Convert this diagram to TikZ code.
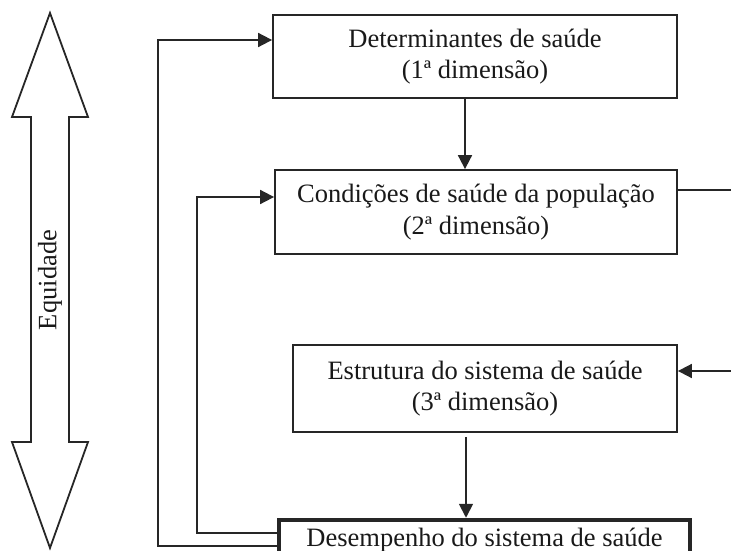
\documentclass[tikz,border=0pt]{standalone}
\usepackage{fontspec}
\setmainfont{Liberation Serif}
\usetikzlibrary{arrows.meta,calc,positioning}

\begin{document}
\begin{tikzpicture}[x=1pt,y=-1pt,
    dimbox/.style={draw=black!85,line width=1.8pt,align=center,inner sep=0pt,
      text=black!90,font=\fontsize{26.5}{31.5}\selectfont},
    flow/.style={draw=black!85,line width=1.8pt,-{Triangle[length=14pt,width=14pt]}}]
  \useasboundingbox (0,0) rectangle (731,551);

  % the four dimensions
  \node[dimbox,minimum width=404pt,minimum height=83pt] (det) at (475,56.5) {Determinantes de saúde\\(1ª dimensão)};
  \node[dimbox,minimum width=402pt,minimum height=84pt] (cond) at (476,212) {Condições de saúde da população\\(2ª dimensão)};
  \node[dimbox,minimum width=384pt,minimum height=87pt] (estr) at (485,388.5) {Estrutura do sistema de saúde\\(3ª dimensão)};
  \node[dimbox,line width=4.5pt,minimum width=411pt,minimum height=40pt] (desemp) at (484.5,540) {Desempenho do sistema de saúde};

  % bends of the connectors
  \coordinate (outtop) at (158,40);
  \coordinate (outbot) at (158,546);
  \coordinate (intop) at (197,197);
  \coordinate (inbot) at (197,533);
  \coordinate (rtop) at (745,190);
  \coordinate (rbot) at (745,371);

  \draw[flow] (det.south -| 465,0) -- (cond.north -| 465,0);
  \draw[flow] (estr.south -| 466,0) ++(0,4) -- (desemp.north -| 466,0);
  \draw[flow] (desemp.west |- outbot) -- (outbot) -- (outtop) -- (det.west |- outtop);
  \draw[flow] (desemp.west |- inbot) -- (inbot) -- (intop) -- (cond.west |- intop);
  \draw[flow] (cond.east |- rtop) -- (rtop) -- (rbot) -- (estr.east |- rbot);

  % equity arrow
  \coordinate (eqtop) at (50,13);
  \coordinate (eqbot) at (50,548);
  \draw[draw=black!85,line width=1.8pt,line join=miter]
    (eqtop) -- (88,117) -- (69,117) -- (69,442) -- (88,442) -- (eqbot)
    -- (12,442) -- (31,442) -- (31,117) -- (12,117) -- cycle;
  \node[rotate=90,text=black!90,font=\fontsize{26.5}{31.5}\selectfont] (eq) at (50,280) {Equidade};
\end{tikzpicture}
\end{document}
